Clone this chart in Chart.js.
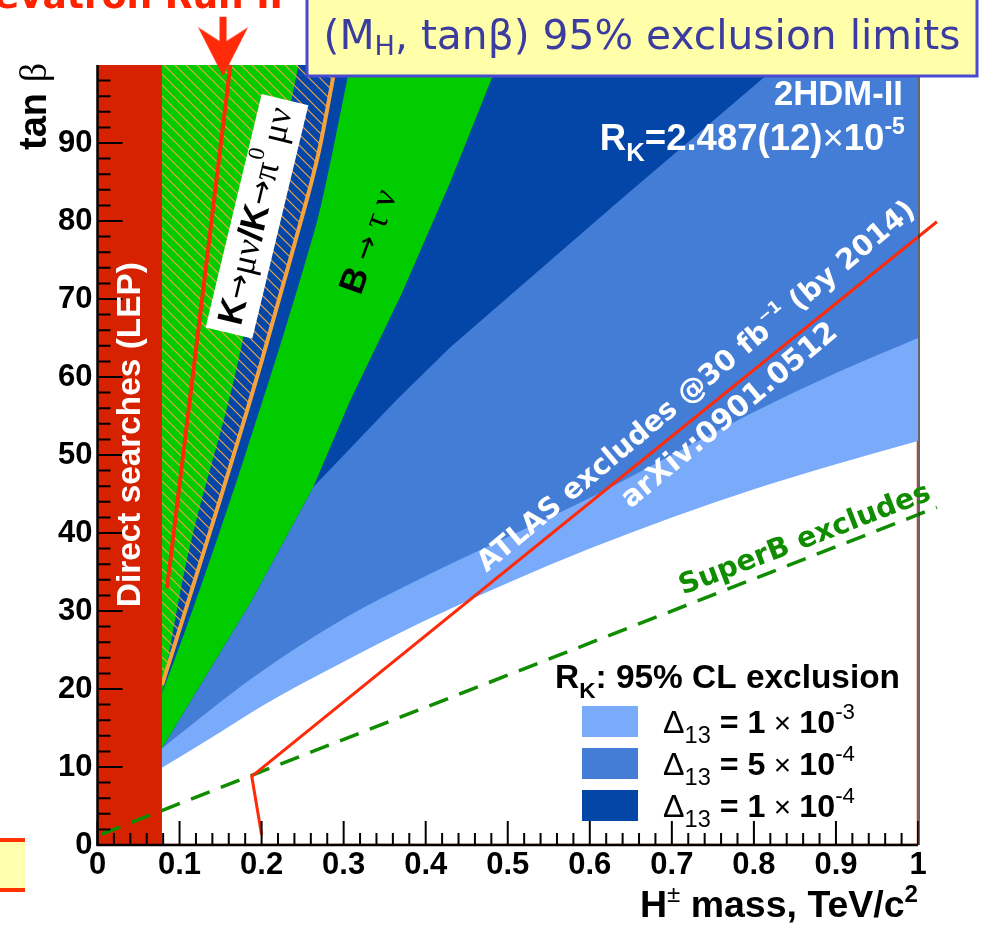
<!DOCTYPE html>
<html>
<head>
<meta charset="utf-8">
<script src="https://cdn.jsdelivr.net/npm/chart.js@4.4.1/dist/chart.umd.min.js"></script>
<style>
  html, body { margin: 0; padding: 0; background: #fff; }
  #wrap { position: relative; width: 982px; height: 928px; }
</style>
</head>
<body>
<div id="wrap"><canvas id="c" width="982" height="928"></canvas></div>
<script>
// ---- axes: charged Higgs mass (TeV/c^2) and tan(beta) ----
const xTickValues = [0, 0.1, 0.2, 0.3, 0.4, 0.5, 0.6, 0.7, 0.8, 0.9, 1.0];
const xTickLabels = ['0', '0.1', '0.2', '0.3', '0.4', '0.5', '0.6', '0.7', '0.8', '0.9', '1'];
const yTickValues = [0, 10, 20, 30, 40, 50, 60, 70, 80, 90];
const yTickLabels = ['0', '10', '20', '30', '40', '50', '60', '70', '80', '90'];

// ---- LEP direct search limit (everything below this mass is excluded) ----
const mLEP = [0, 0.0786];
const tLEP = [100, 100];

// ---- R_K exclusion contours: lower edge of each excluded band ----
// Delta13 = 1e-3
const mLight = [0.0786, 0.15, 0.2, 0.3, 0.4, 0.5, 0.6, 0.7, 0.8, 0.9, 1.0];
const tLight = [9.9, 14.5, 17.8, 23.5, 28.8, 33.6, 38.0, 42.0, 45.6, 48.8, 51.8];
// Delta13 = 5e-4
const mMed = [0.0786, 0.19, 0.3, 0.4, 0.5, 0.6, 0.7, 0.8, 0.9, 1.0];
const tMed = [12.4, 21.5, 29.0, 34.5, 39.5, 44.5, 50.0, 55.5, 60.5, 65.0];
// Delta13 = 1e-4
const mDark = [0.0786, 0.186, 0.263, 0.365, 0.43, 0.637, 0.83];
const tDark = [12.4, 31.0, 45.9, 57.1, 63.8, 82.7, 100];

// ---- B -> tau nu allowed strip ----
const mBtauLow = [0.0786, 0.186, 0.263, 0.308, 0.37, 0.43, 0.487];
const tBtauLow = [12.4, 31.0, 45.9, 57.0, 70.5, 85.0, 100];
const mBtauHigh = [0.0786, 0.106, 0.18, 0.253, 0.271, 0.308];
const tBtauHigh = [19.5, 27.2, 50.0, 74.6, 81.4, 100];

// ---- K -> mu nu / K -> pi mu nu contours ----
const mKmu = [0.0786, 0.15, 0.20, 0.24, 0.27, 0.29];
const tKmu = [20.5, 44.5, 62.0, 77.0, 89.0, 100];
const mKmuEdge = [0.0786, 0.107, 0.17, 0.245];
const tKmuEdge = [19.5, 35.6, 61.3, 100];

// ---- Tevatron Run II reach ----
const mTev = [0.0847, 0.162];
const tTev = [32.9, 100];
const mTevShaft = [0.153, 0.153];
const tTevShaft = [106.2, 102.0];
const mTevHead = [0.153];
const tTevHead = [101.7];

// ---- ATLAS 30 fb^-1 reach ----
const mAtlas = [0.200, 0.188, 1.023];
const tAtlas = [1.3, 8.8, 79.9];

// ---- SuperB reach ----
const mSuperB = [0.005, 1.023];
const tSuperB = [1.4, 43.3];

// ---- right/bottom edge of the allowed window ----
const mEdge = [0.0786, 1.0, 1.0];
const tEdge = [0, 0, 51.8];

// ---- colours ----
const C_RED = '#d62200';
const C_GREEN = '#00cc00';
const C_DARK = '#0445a8';
const C_MED = '#447dd6';
const C_LIGHT = '#7aabfb';
const C_ORANGE = '#f5a33a';
const C_LINE = '#ff2a0a';
const C_SUPERB = '#108c00';

function makeHatch() {
  const s = 11;
  const c = document.createElement('canvas');
  c.width = s; c.height = s;
  const g = c.getContext('2d');
  g.strokeStyle = '#eea447';
  g.lineWidth = 1.2;
  g.beginPath();
  g.moveTo(0, 0); g.lineTo(s, s);
  g.moveTo(-2, s - 2); g.lineTo(2, s + 2);
  g.moveTo(s - 2, -2); g.lineTo(s + 2, 2);
  g.stroke();
  return g.createPattern(c, 'repeat');
}

function makeArrowHead() {
  const c = document.createElement('canvas');
  c.width = 50; c.height = 49;
  const g = c.getContext('2d');
  g.fillStyle = C_LINE;
  g.beginPath();
  g.moveTo(25, 49); g.lineTo(0, 0); g.lineTo(25, 16); g.lineTo(50, 0);
  g.closePath(); g.fill();
  return c;
}

const pts = (xs, ys) => xs.map((v, i) => ({ x: v, y: ys[i] }));
const band = (xs, ys, color, fill, smooth) => ({
  data: pts(xs, ys), backgroundColor: color, borderColor: 'rgba(0,0,0,0)',
  borderWidth: 0, pointRadius: 0, fill: fill,
  cubicInterpolationMode: smooth ? 'monotone' : 'default'
});
const curve = (xs, ys, color, width, extra) => Object.assign({
  data: pts(xs, ys), borderColor: color, borderWidth: width,
  pointRadius: 0, fill: false, backgroundColor: color
}, extra || {});

// painter's order: first entry is painted first
const layers = [
  band(mLight, tLight, C_LIGHT, 'end', true),
  band(mMed, tMed, C_MED, 'end', true),
  band(mDark, tDark, C_DARK, 'end', false),
  band(mBtauLow, tBtauLow, C_GREEN, 'end', false),
  band(mBtauHigh, tBtauHigh, C_DARK, 'end', true),
  band(mKmuEdge, tKmuEdge, C_GREEN, 'end', true),
  band(mKmu, tKmu, makeHatch(), 'end', true),
  curve(mKmu, tKmu, C_ORANGE, 4, { cubicInterpolationMode: 'monotone' }),
  band(mLEP, tLEP, C_RED, 'start', false),
  curve(mEdge, tEdge, C_LINE, 2.5),
  curve(mTev, tTev, C_LINE, 4, { clip: false }),
  curve(mTevShaft, tTevShaft, C_LINE, 7, { clip: false }),
  { data: pts(mTevHead, tTevHead), showLine: false, pointStyle: makeArrowHead(),
    pointRadius: 25, clip: false, borderWidth: 0, backgroundColor: C_LINE },
  curve(mSuperB, tSuperB, C_SUPERB, 3.5, { clip: false, borderDash: [20, 12], borderCapStyle: 'butt' }),
  curve(mAtlas, tAtlas, C_LINE, 3, { clip: false })
];
layers.forEach((d, i) => { d.order = layers.length - i; });

// ---- text helpers ----
function drawRich(ctx, runs, x, y, opt) {
  ctx.save();
  ctx.translate(x, y);
  ctx.rotate((opt.angle || 0) * Math.PI / 180);
  let total = 0;
  const widths = runs.map(r => { ctx.font = r[1]; const w = ctx.measureText(r[0]).width; total += w; return w; });
  const k = opt.width ? opt.width / total : 1;
  ctx.scale(k, k);
  if (opt.box) {
    ctx.fillStyle = opt.box.color;
    ctx.fillRect(-opt.box.w / 2 / k, -opt.box.h / 2 / k, opt.box.w / k, opt.box.h / k);
  }
  let cx = opt.align === 'left' ? 0 : opt.align === 'right' ? -total : -total / 2;
  ctx.textBaseline = opt.baseline || 'middle';
  ctx.textAlign = 'left';
  runs.forEach((r, i) => {
    ctx.font = r[1];
    ctx.fillStyle = r[3] || opt.color || '#000';
    ctx.fillText(r[0], cx, r[2] || 0);
    cx += widths[i];
  });
  ctx.restore();
}

const SANS = '"Liberation Sans", Arial, sans-serif';
const SERIF = '"Liberation Serif", "Times New Roman", serif';
const VERD = '"DejaVu Sans", Verdana, sans-serif';

const decor = {
  id: 'decor',
  afterDatasetsDraw(chart) {
    const { ctx, chartArea: a, scales: { x, y } } = chart;
    const P = (m, t) => [x.getPixelForValue(m), y.getPixelForValue(t)];

    // frame and inward ticks
    ctx.save();
    ctx.strokeStyle = '#000';
    ctx.lineWidth = 2;
    ctx.beginPath();
    for (let i = 0; i <= 50; i++) {
      const px = x.getPixelForValue(i / 50);
      const len = i % 5 === 0 ? 24 : 12;
      ctx.moveTo(px, a.bottom); ctx.lineTo(px, a.bottom - len);
    }
    for (let i = 0; i < 50; i++) {
      const py = y.getPixelForValue(i * 2);
      const len = i % 5 === 0 ? 25 : 13;
      ctx.moveTo(a.left, py); ctx.lineTo(a.left + len, py);
    }
    ctx.stroke();
    ctx.lineWidth = 2.5;
    ctx.beginPath();
    ctx.moveTo(a.left, a.top); ctx.lineTo(a.left, a.bottom); ctx.lineTo(a.right, a.bottom);
    ctx.stroke();
    ctx.lineWidth = 1.5;
    ctx.strokeStyle = '#333';
    ctx.beginPath();
    ctx.moveTo(a.right + 1, a.top); ctx.lineTo(a.right + 1, a.bottom);
    ctx.stroke();
    ctx.restore();

    // in-plot labels
    let p = P(0.0408, 52.6);
    drawRich(ctx, [['Direct searches (LEP)', 'bold 27px ' + SANS]], p[0], p[1],
      { angle: -90, width: 345, color: '#fff' });

    p = P(0.1944, 80.6);
    drawRich(ctx, [
      ['K', 'bold 26px ' + SANS], ['\u2192', '22px ' + VERD], ['\u03bc\u03bd', '26px ' + SERIF],
      ['/', 'bold 26px ' + SANS], ['K', 'bold 26px ' + SANS], ['\u2192', '22px ' + VERD],
      ['\u03c0', '26px ' + SERIF], ['0', '17px ' + SERIF, -10], [' \u03bc\u03bd', '26px ' + SERIF]
    ], p[0], p[1], { angle: -76.5, width: 222, color: '#000', box: { color: '#fff', w: 240, h: 48 } });

    p = P(0.332, 77.3);
    drawRich(ctx, [['B', 'bold 24px ' + SANS], [' \u2192 ', '20px ' + VERD], ['\u03c4 \u03bd', '24px ' + SERIF]],
      p[0], p[1], { angle: -70, width: 108, color: '#000' });

    p = P(0.7307, 58.7);
    drawRich(ctx, [['ATLAS excludes @30 fb', 'bold 24px ' + VERD], ['\u22121', 'bold 14px ' + VERD, -9],
      [' (by 2014)', 'bold 24px ' + VERD]], p[0], p[1], { angle: -39.9, width: 561, color: '#fff' });

    p = P(0.7709, 55.0);
    drawRich(ctx, [['arXiv:0901.0512', 'bold 24px ' + VERD]], p[0], p[1],
      { angle: -39.9, width: 272, color: '#fff' });

    p = P(0.8623, 39.1);
    drawRich(ctx, [['SuperB excludes', 'bold 24px ' + VERD]], p[0], p[1],
      { angle: -21, width: 267, color: C_SUPERB });

    p = P(0.9817, 94.9);
    drawRich(ctx, [['2HDM-II', 'bold 27px ' + SANS]], p[0], p[1],
      { align: 'right', baseline: 'alphabetic', width: 129, color: '#fff' });

    p = P(0.984, 89.1);
    drawRich(ctx, [['R', 'bold 27px ' + SANS], ['K', 'bold 19px ' + SANS, 8], ['=2.487(12)', 'bold 27px ' + SANS],
      ['\u00d7', '27px ' + SANS], ['10', 'bold 27px ' + SANS], ['-5', 'bold 17px ' + SANS, -12]],
      p[0], p[1], { align: 'right', baseline: 'alphabetic', width: 305, color: '#fff' });

    // legend
    ctx.save();
    drawRich(ctx, [['R', 'bold 28px ' + SANS], ['K', 'bold 19px ' + SANS, 8], [': 95% CL exclusion', 'bold 28px ' + SANS]],
      555, 688, { align: 'left', baseline: 'alphabetic', width: 345, color: '#000' });
    const entries = [
      [C_LIGHT, '1', '-3', 706, 733],
      [C_MED, '5', '-4', 748, 775],
      [C_DARK, '1', '-4', 790, 817]
    ];
    entries.forEach(e => {
      ctx.fillStyle = e[0];
      ctx.fillRect(582, e[3], 56, 31);
      drawRich(ctx, [['\u0394', '26px ' + SANS], ['13', '19px ' + SANS, 8], [' = ' + e[1], 'bold 26px ' + SANS],
        [' \u00d7 ', '24px ' + SANS], ['10', 'bold 26px ' + SANS], [e[2], '18px ' + SANS, -11]],
        663, e[4], { align: 'left', baseline: 'alphabetic', width: 192, color: '#000' });
    });
    ctx.restore();
  },
  afterDraw(chart) {
    const ctx = chart.ctx;
    // headline box
    ctx.save();
    ctx.fillStyle = '#ffffaa';
    ctx.strokeStyle = '#4a4ad0';
    ctx.lineWidth = 3;
    ctx.fillRect(307, -4, 670, 80);
    ctx.strokeRect(307, -4, 670, 80);
    ctx.restore();
    drawRich(ctx, [['(M', '36px ' + VERD], ['H', '24px ' + VERD, 9], [', tan\u03b2) 95% exclusion limits', '36px ' + VERD]],
      642, 38, { width: 637, color: '#3c3ca0' });

    drawRich(ctx, [['Tevatron Run II', 'bold 36px ' + VERD]], 283, 8,
      { align: 'right', baseline: 'alphabetic', color: '#ff2200' });

    // small box at the lower left margin
    ctx.save();
    ctx.fillStyle = '#ffffb0';
    ctx.fillRect(0, 840, 25, 50);
    ctx.fillStyle = '#ff3300';
    ctx.fillRect(0, 838, 25, 4);
    ctx.fillRect(0, 888, 25, 4);
    ctx.restore();

    // axis titles
    drawRich(ctx, [['tan', 'bold 30px ' + SANS], [' ', '30px ' + SANS], ['\u03b2', '30px ' + SERIF]],
      46, 106.5, { angle: -90, baseline: 'alphabetic', width: 87, color: '#000' });
    drawRich(ctx, [['H', 'bold 28px ' + SANS], ['\u00b1', '18px ' + SANS, -11], [' mass, TeV/c', 'bold 28px ' + SANS],
      ['2', 'bold 18px ' + SANS, -11]], 918, 917, { align: 'right', baseline: 'alphabetic', width: 278, color: '#000' });
  }
};

new Chart(document.getElementById('c'), {
  type: 'line',
  data: { datasets: layers },
  options: {
    responsive: false,
    animation: false,
    devicePixelRatio: 1,
    events: [],
    layout: { padding: { top: 65, right: 64, left: 0, bottom: 0 } },
    plugins: { legend: { display: false }, tooltip: { enabled: false } },
    elements: { line: { tension: 0 } },
    scales: {
      x: {
        type: 'linear', min: 0, max: 1,
        grid: { display: false, drawTicks: false },
        border: { display: false },
        afterFit: s => { s.height = 83; },
        afterBuildTicks: s => { s.ticks = xTickValues.map(v => ({ value: v })); },
        ticks: {
          padding: 2, color: '#000', maxRotation: 0, autoSkip: false,
          font: { family: 'Liberation Sans', size: 31, weight: 'bold' },
          callback: (v, i) => xTickLabels[i]
        }
      },
      y: {
        type: 'linear', min: 0, max: 100,
        grid: { display: false, drawTicks: false },
        border: { display: false },
        afterFit: s => { s.width = 97.5; },
        afterBuildTicks: s => { s.ticks = yTickValues.map(v => ({ value: v })); },
        ticks: {
          padding: 5, color: '#000', autoSkip: false,
          font: { family: 'Liberation Sans', size: 31, weight: 'bold' },
          callback: (v, i) => yTickLabels[i]
        }
      }
    }
  },
  plugins: [decor]
});
</script>
</body>
</html>
